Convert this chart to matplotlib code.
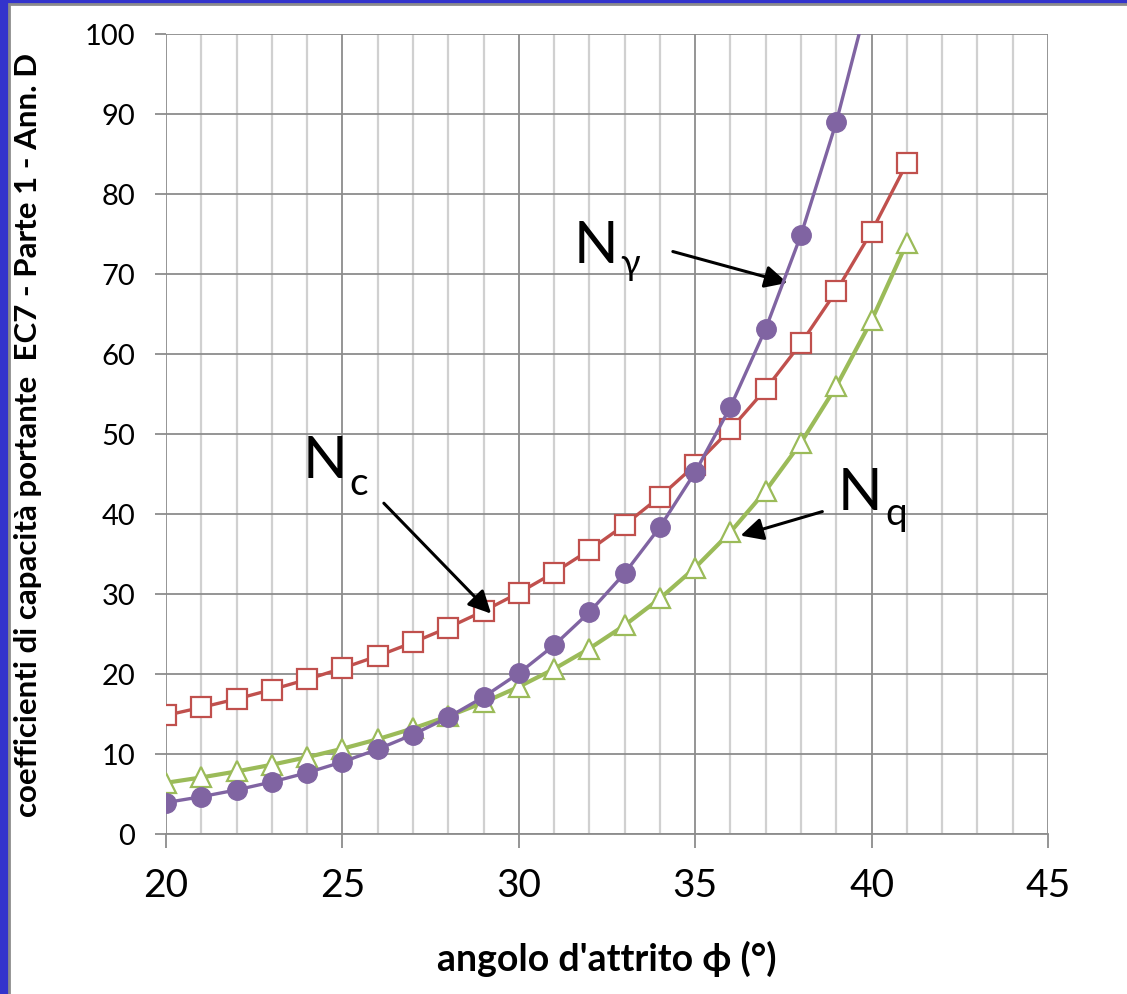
import matplotlib.pyplot as plt
from matplotlib.patches import Rectangle
from matplotlib.ticker import MultipleLocator

plt.rcParams['font.family'] = ['Lato', 'DejaVu Sans']

# angolo d'attrito (gradi) e coefficienti
phi = [20, 21, 22, 23, 24, 25, 26, 27, 28, 29, 30,
       31, 32, 33, 34, 35, 36, 37, 38, 39, 40, 41]
Nc = [14.83, 15.82, 16.88, 18.05, 19.32, 20.72, 22.25, 23.94, 25.80, 27.86, 30.14,
      32.67, 35.49, 38.64, 42.16, 46.12, 50.59, 55.63, 61.35, 67.87, 75.31, 83.86]
Nq = [6.40, 7.07, 7.82, 8.66, 9.60, 10.66, 11.85, 13.20, 14.72, 16.44, 18.40,
      20.63, 23.18, 26.09, 29.44, 33.30, 37.75, 42.92, 48.93, 55.96, 64.20, 73.90]
Ng = [3.93, 4.66, 5.51, 6.50, 7.66, 9.01, 10.59, 12.43, 14.59, 17.12, 20.09,
      23.59, 27.72, 32.59, 38.37, 45.23, 53.40, 63.18, 74.90, 89.0, 106.05, 126.5]

fig = plt.figure(figsize=(11.27, 9.95), dpi=100)
fig.patch.set_facecolor('#3333CC')
# pannello bianco con bordo grigio
fig.patches.append(Rectangle((9 / 1127, -0.01), 1.1, 1 - 5 / 995 + 0.01,
                             transform=fig.transFigure, facecolor='white',
                             edgecolor='#8C8C8C', linewidth=2, zorder=-5))

ax = fig.add_axes([166 / 1127, 1 - 835 / 995, 882 / 1127, 800 / 995])
ax.set_facecolor('white')

ax.plot(phi, Nc, color='#C0504D', lw=2.4, marker='s', ms=14,
        mfc='white', mec='#C0504D', mew=1.6, zorder=3)
ax.plot(phi, Nq, color='#9BBB59', lw=3.0, marker='^', ms=15,
        mfc='white', mec='#9BBB59', mew=1.6, zorder=3)
ax.plot(phi, Ng, color='#8064A2', lw=2.4, marker='o', ms=14,
        mfc='#8064A2', mec='#8064A2', zorder=4)

ax.set_xlim(20, 45)
ax.set_ylim(0, 100)
ax.xaxis.set_major_locator(MultipleLocator(5))
ax.xaxis.set_minor_locator(MultipleLocator(1))
ax.yaxis.set_major_locator(MultipleLocator(10))

ax.grid(which='major', axis='both', color='#8C8C8C', lw=1.3)
ax.grid(which='minor', axis='x', color='#D0D0D0', lw=1.6)
ax.set_axisbelow(True)
for s in ['top', 'right', 'left']:
    ax.spines[s].set_visible(False)
ax.spines['bottom'].set_color('#8C8C8C')
ax.spines['bottom'].set_linewidth(1.3)

ax.tick_params(axis='x', which='major', length=10, width=1.3, color='#8C8C8C',
               labelsize=28, pad=14)
ax.tick_params(axis='x', which='minor', length=0)
ax.tick_params(axis='y', length=8, width=1.3, color='#8C8C8C', labelsize=21, pad=14)

ax.set_xlabel("angolo d'attrito \u03d5 (°)", fontsize=27, fontweight='bold')
ax.xaxis.set_label_coords(0.5, -0.132)
ax.set_ylabel('coefficienti di capacità portante  EC7 - Parte 1 - Ann. D',
              fontsize=22.5, fontweight='bold')
ax.yaxis.set_label_coords(-0.141, 0.5)

# etichette con frecce
arrow = dict(arrowstyle='-|>', color='black', lw=2.2, mutation_scale=34)
ax.text(23.88, 44.6, 'N', fontsize=42, va='baseline')
ax.text(25.2, 42.5, 'c', fontsize=28, va='baseline')
ax.annotate('', xy=(29.27, 27.3), xytext=(26.12, 41.6), arrowprops=arrow)

ax.text(31.55, 71.5, 'N', fontsize=42, va='baseline')
ax.text(32.88, 70.0, '\u03b3', fontsize=26, va='baseline')
ax.annotate('', xy=(37.69, 68.8), xytext=(34.29, 72.9), arrowprops=arrow)

ax.text(39.05, 40.6, 'N', fontsize=42, va='baseline')
ax.text(40.38, 38.8, 'q', fontsize=28, va='baseline')
ax.annotate('', xy=(36.21, 37.2), xytext=(38.68, 40.4), arrowprops=arrow)

fig.savefig('out.png', dpi=100, facecolor=fig.get_facecolor())
